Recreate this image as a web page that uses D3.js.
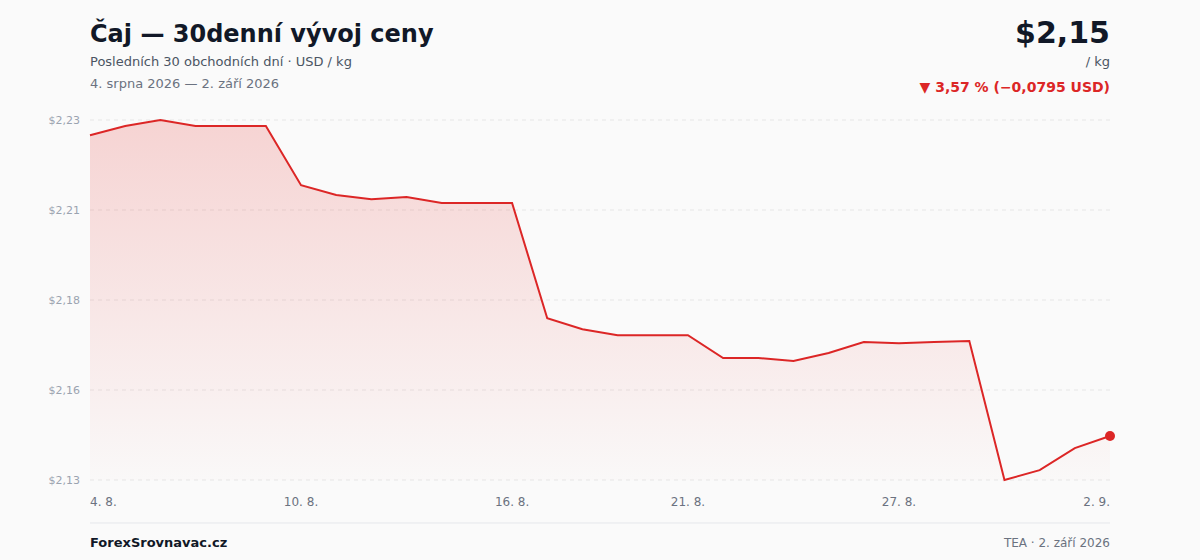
<!DOCTYPE html>
<html><head><meta charset="utf-8">
<script src="https://cdn.jsdelivr.net/npm/d3@7"></script>
<style>body{margin:0;background:#fafafa;font-family:"DejaVu Sans",sans-serif}</style>
</head><body><svg id="c" width="1200" height="560"></svg>
<script>
const values=[2.2245,2.2269,2.2285,2.2269,2.2269,2.2269,2.2113,2.2087,2.2076,2.2082,2.2066,2.2066,2.2066,2.1762,2.1733,2.1717,2.1717,2.1717,2.1657,2.1657,2.1649,2.1670,2.1699,2.1696,2.1699,2.1702,2.1335,2.1361,2.1419,2.1451];
const xTickIdx=[0,6,12,17,23,29];
const xTickLabels=["4. 8.","10. 8.","16. 8.","21. 8.","27. 8.","2. 9."];
const yTickLabels=["$2,13","$2,16","$2,18","$2,21","$2,23"];
const svg=d3.select("#c");
const L=90,R=1110,T=120,B=480;
const x=d3.scaleLinear().domain([0,values.length-1]).range([L,R]);
const y=d3.scaleLinear().domain([d3.min(values),d3.max(values)]).range([B,T]);
const [mn,mx]=y.domain();
const yt=yTickLabels.map((l,i)=>({l,v:mn+(mx-mn)*i/4}));
const defs=svg.append("defs");
const g=defs.append("linearGradient").attr("id","gr").attr("x1",0).attr("x2",0).attr("y1",0).attr("y2",1);
g.append("stop").attr("offset","0%").attr("stop-color","#e53935").attr("stop-opacity",0.2);
g.append("stop").attr("offset","100%").attr("stop-color","#e53935").attr("stop-opacity",0.01);
svg.selectAll(".gl").data(yt).join("line").attr("x1",L).attr("x2",R).attr("y1",d=>y(d.v)).attr("y2",d=>y(d.v)).attr("stroke","#e6e6e6").attr("stroke-dasharray","4 4");
svg.selectAll(".yl").data(yt).join("text").attr("x",L-10).attr("y",d=>y(d.v)+4).attr("text-anchor","end").attr("font-size",11).attr("fill","#9aa3b0").text(d=>d.l);
svg.append("path").datum(values).attr("fill","url(#gr)").attr("d",d3.area().x((d,i)=>x(i)).y0(B).y1(d=>y(d)));
svg.append("path").datum(values).attr("fill","none").attr("stroke","#dc2626").attr("stroke-width",2).attr("d",d3.line().x((d,i)=>x(i)).y(d=>y(d)));
svg.append("circle").attr("cx",x(values.length-1)).attr("cy",y(values[values.length-1])).attr("r",5).attr("fill","#dc2626");
xTickIdx.forEach((t,k)=>svg.append("text").attr("x",x(t)).attr("y",506).attr("font-size",12).attr("fill","#6b7280")
 .attr("text-anchor",k==0?"start":k==xTickIdx.length-1?"end":"middle").text(xTickLabels[k]));
const tx=(x0,y0,s,sz,fill,w,a)=>svg.append("text").attr("x",x0).attr("y",y0).attr("font-size",sz).attr("fill",fill).attr("font-weight",w||"normal").attr("text-anchor",a||"start").text(s);
tx(90,42,"Čaj — 30denní vývoj ceny",24,"#111827","bold");
tx(90,66,"Posledních 30 obchodních dní · USD / kg",13,"#4b5563");
tx(90,88,"4. srpna 2026 — 2. září 2026",13,"#6b7280");
tx(1110,43,"$2,15",30,"#111827","bold","end");
tx(1110,66,"/ kg",13,"#4b5563","normal","end");
tx(1110,92,"▼ 3,57 % (−0,0795 USD)",14,"#dc2626","bold","end");
svg.append("line").attr("x1",90).attr("x2",1110).attr("y1",523).attr("y2",523).attr("stroke","#e5e7eb");
tx(90,547,"ForexSrovnavac.cz",13,"#111827","bold");
tx(1110,547,"TEA · 2. září 2026",12,"#6b7280","normal","end");
</script></body></html>
